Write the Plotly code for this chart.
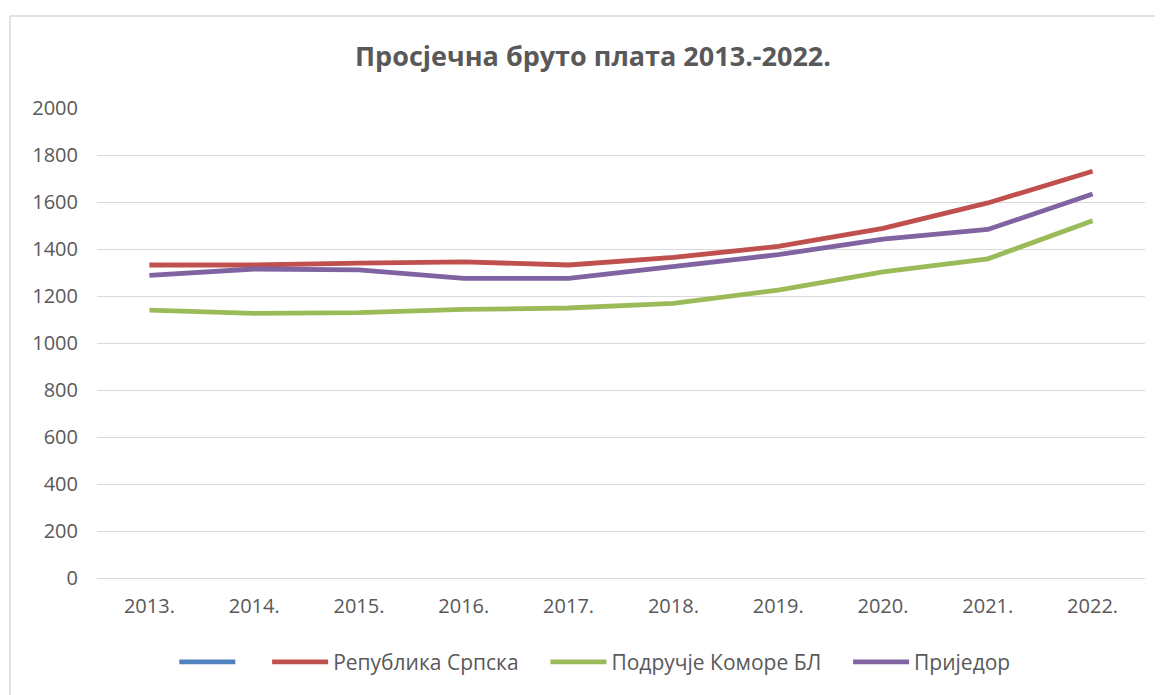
import plotly.graph_objects as go

# Просјечна бруто плата по годинама (КМ)
godine = ["2013.", "2014.", "2015.", "2016.", "2017.",
          "2018.", "2019.", "2020.", "2021.", "2022."]
republika_srpska = [1332, 1332, 1340, 1345, 1332, 1364, 1411, 1488, 1596, 1731]
komora_bl = [1140, 1126, 1129, 1143, 1149, 1169, 1225, 1303, 1358, 1520]
prijedor = [1288, 1315, 1311, 1275, 1275, 1324, 1376, 1442, 1483, 1634]
prazna_serija = [None] * len(godine)

SIVA = "#595959"
FONT = "Open Sans"
RAZMAK = "\u00a0" * 4  # malo više prostora između stavki legende

serije = [
    (RAZMAK, prazna_serija, "#4f81bd"),
    ("Република Српска" + RAZMAK, republika_srpska, "#c0504d"),
    ("Подручје Коморе БЛ" + RAZMAK, komora_bl, "#9bbb59"),
    ("Приједор", prijedor, "#8064a2"),
]

fig = go.Figure()
for ime, vrijednosti, boja in serije:
    fig.add_trace(go.Scatter(
        x=godine, y=vrijednosti, name=ime, mode="lines",
        line=dict(color=boja, width=4.8),
    ))

# stranica ima 8px margine na body, pa je sve pomjereno za 8px
fig.update_layout(
    width=1163, height=695,
    paper_bgcolor="white", plot_bgcolor="white",
    font=dict(family=FONT, color=SIVA, size=20),
    title=dict(
        text="<b>Просјечна бруто плата 2013.-2022.</b>",
        x=0.503, xanchor="center", y=0.93, yanchor="middle",
        font=dict(size=27, color=SIVA, family=FONT),
    ),
    margin=dict(l=89, r=26, t=100, b=125),
    xaxis=dict(
        type="category", range=[-0.5, 9.5],
        showgrid=False, showline=True, linecolor="#d9d9d9", linewidth=1,
        ticks="", tickfont=dict(size=20, color=SIVA), ticklabelstandoff=10,
    ),
    yaxis=dict(
        range=[0, 2000], dtick=200, showline=False,
        gridcolor="#d9d9d9", gridwidth=1, zeroline=False,
        ticks="", tickfont=dict(size=20, color=SIVA), ticklabelstandoff=18,
    ),
    legend=dict(
        orientation="h", x=0.475, xanchor="center", y=-0.179, yanchor="middle",
        font=dict(size=21, color=SIVA), itemwidth=56,
    ),
    showlegend=True,
    shapes=[
        dict(type="line", xref="paper", yref="paper",
             x0=-87 / 1048, x1=1.05, y0=562 / 470, y1=562 / 470,
             line=dict(color="#d9d9d9", width=1.5)),
        dict(type="line", xref="paper", yref="paper",
             x0=-87 / 1048, x1=-87 / 1048, y0=562 / 470, y1=-0.4,
             line=dict(color="#d9d9d9", width=1.5)),
    ],
)

fig.write_html("out.html")
